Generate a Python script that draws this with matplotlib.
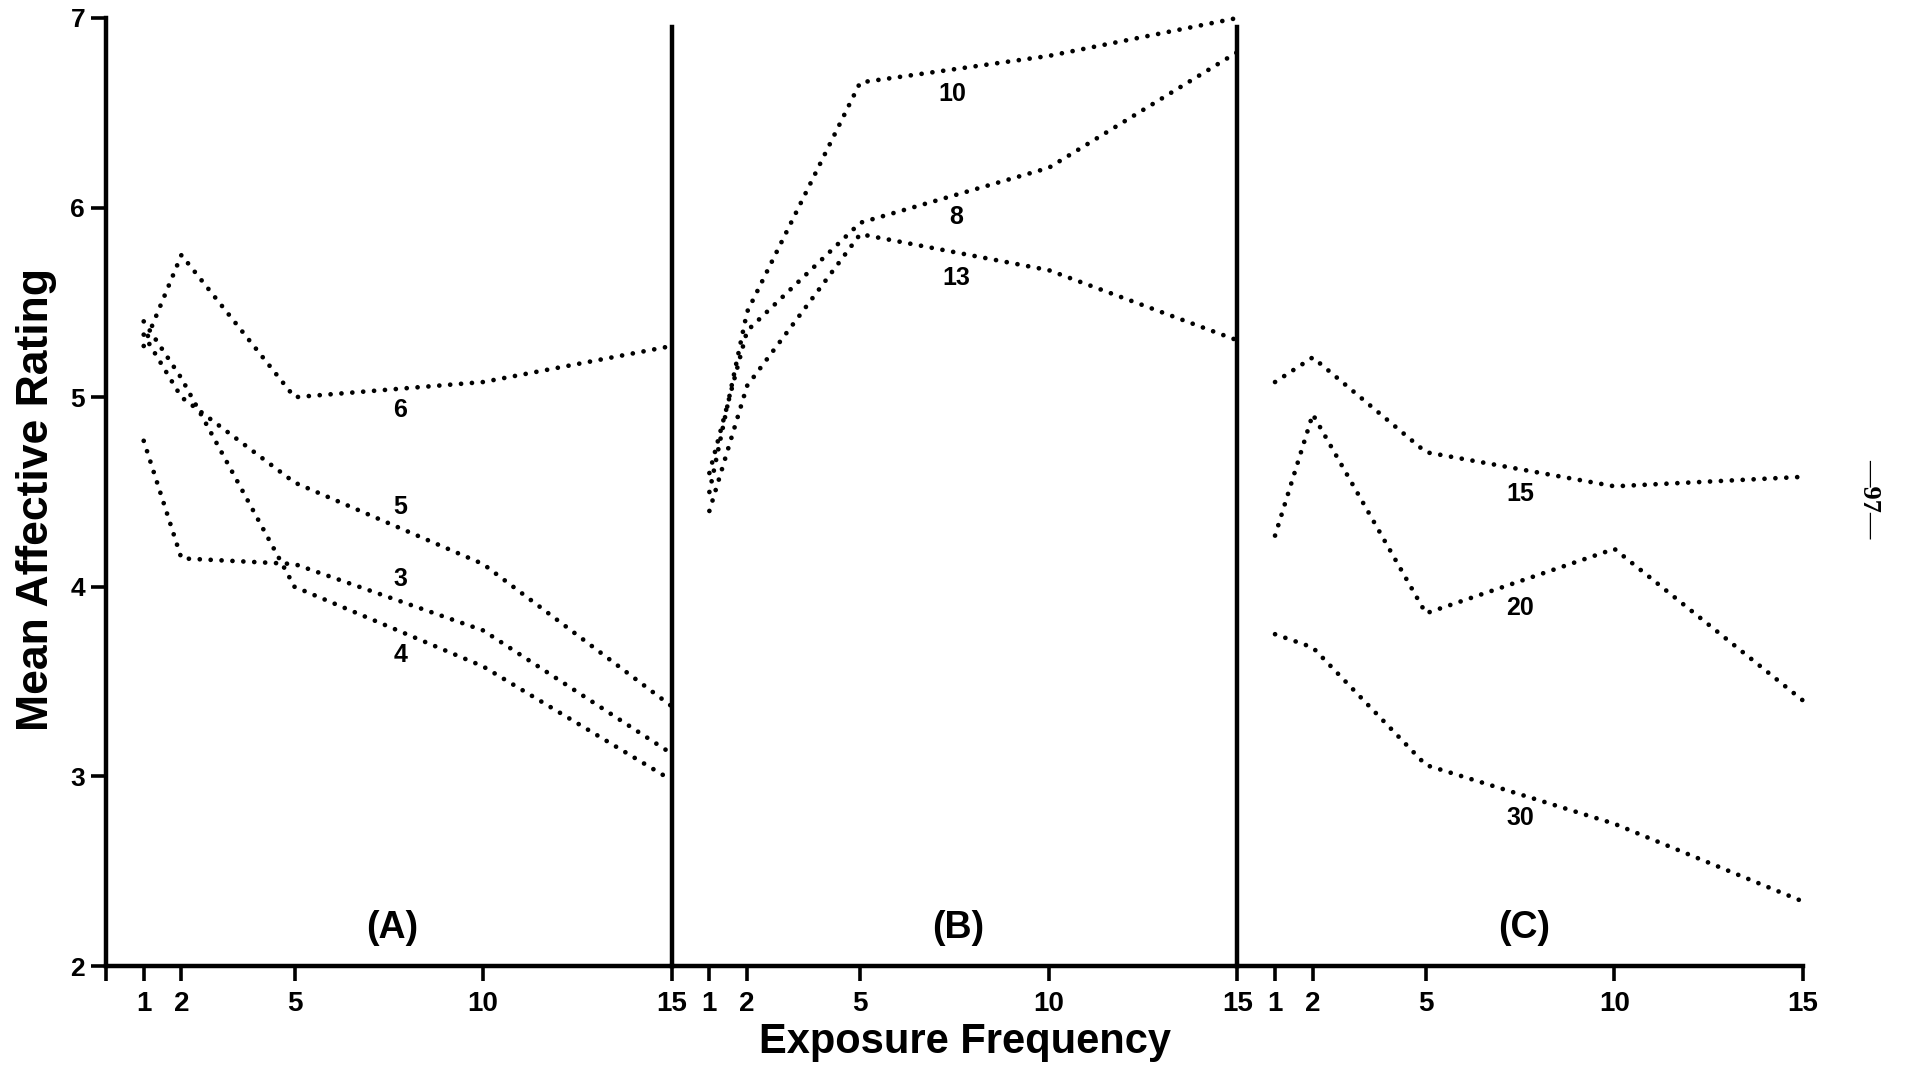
import matplotlib
matplotlib.use("Agg")
import matplotlib.pyplot as plt

plt.rcParams['font.family'] = ['Liberation Sans', 'DejaVu Sans']
plt.rcParams['font.weight'] = 'bold'

# exposure frequencies (same for every panel)
freq = [1, 2, 5, 10, 15]
freq_labels = ["1", "2", "5", "10", "15"]

# panel A
a_names = ["3", "4", "5", "6"]
a3 = [4.77, 4.15, 4.12, 3.77, 3.12]
a4 = [5.40, 5.10, 4.00, 3.58, 2.98]
a5 = [5.33, 5.00, 4.55, 4.12, 3.37]
a6 = [5.27, 5.75, 5.00, 5.08, 5.27]

# panel B
b_names = ["8", "10", "13"]
b8 = [4.60, 5.35, 5.92, 6.21, 6.82]
b10 = [4.50, 5.45, 6.66, 6.80, 7.00]
b13 = [4.40, 5.06, 5.86, 5.67, 5.30]

# panel C
c_names = ["15", "20", "30"]
c15 = [5.08, 5.21, 4.71, 4.53, 4.58]
c20 = [4.27, 4.91, 3.86, 4.20, 3.40]
c30 = [3.75, 3.68, 3.06, 2.75, 2.34]

panels = [
   ("(A)", a_names, [a3, a4, a5, a6], [(7.8, 4.04), (7.8, 3.64), (7.8, 4.42), (7.8, 4.93)]),
   ("(B)", b_names, [b8, b10, b13], [(7.55, 5.95), (7.45, 6.60), (7.55, 5.63)]),
   ("(C)", c_names, [c15, c20, c30], [(7.5, 4.49), (7.5, 3.89), (7.5, 2.78)]),
]

W, H = 1911, 1069
fig = plt.figure(figsize=(W / 100, H / 100), dpi=100)

x0, x1 = 106, 1803
y_top, y_bot = 18, 966
pw = (x1 - x0) / 3

DOTS = dict(color="black", lw=3.4, linestyle=(0, (0.01, 2.3)),
            dash_capstyle="round", clip_on=False)

for i, (letter, names, series, label_pos) in enumerate(panels):
   ax = fig.add_axes([(x0 + i * pw) / W, 1 - y_bot / H, pw / W, (y_bot - y_top) / H])
   ax.patch.set_visible(False)
   ax.set_xlim(0, 15)
   ax.set_ylim(2, 7)

   for vals, name, (lx, ly) in zip(series, names, label_pos):
      ax.plot(freq, vals, **DOTS)
      ax.text(lx, ly, name, ha="center", va="center", fontsize=18, fontweight="bold")

   ax.text(7.6, 2.2, letter, ha="center", va="center", fontsize=27, fontweight="bold")

   for s in ax.spines.values():
      s.set_linewidth(3.2)
   ax.spines['top'].set_visible(False)
   if i > 0:
      ax.spines['left'].set_visible(False)
   if i == 2:
      ax.spines['right'].set_visible(False)
   else:
      ax.spines['right'].set_bounds(2, 6.95)

   if i == 0:
      ax.set_xticks([0] + freq)
      ax.set_xticklabels([""] + freq_labels)
      ax.set_yticks([2, 3, 4, 5, 6, 7])
      ax.tick_params(axis="y", direction="out", length=11, width=2.6,
                     labelsize=19, pad=4)
   else:
      ax.set_xticks(freq)
      ax.set_xticklabels(freq_labels)
      ax.set_yticks([])
   ax.tick_params(axis="x", direction="out", length=11, width=2.6,
                  labelsize=20, pad=7)
   for lab in ax.get_xticklabels() + ax.get_yticklabels():
      lab.set_fontweight("bold")

fig.text(37 / W, 1 - 500 / H, "Mean Affective Rating", rotation=90,
         ha="center", va="center", fontsize=32, fontweight="bold")
fig.text(965 / W, 1 - 1042 / H, "Exposure Frequency",
         ha="center", va="center", fontsize=30, fontweight="bold")
fig.text(1870 / W, 1 - 499 / H, "\u201497\u2014", rotation=-90,
         ha="center", va="center", fontsize=19, family="Liberation Serif",
         fontweight="bold")

fig.savefig("out.png", dpi=100)
